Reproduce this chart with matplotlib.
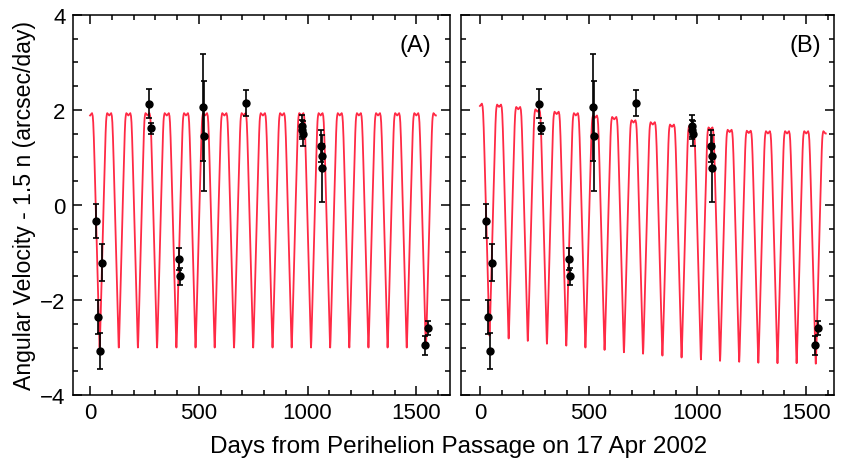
import numpy as np
import matplotlib.pyplot as plt
from matplotlib.ticker import MultipleLocator

plt.rcParams['font.family'] = ['Liberation Sans', 'DejaVu Sans']

# model curve: trough times (days), one every ~88 d
trough_days = [44, 132, 220, 308, 397, 485, 573, 662, 750, 839, 927, 1016,
               1104, 1192, 1280, 1368, 1456, 1544]
# panel A levels (constant)
plateau_a = 1.93
trough_a = -3.00
# panel B levels, plateaus centred at day 0, 88, 176, ...
plateau_b = [2.13, 2.11, 2.06, 2.01, 1.96, 1.93, 1.88, 1.85, 1.78, 1.74,
             1.69, 1.66, 1.63, 1.58, 1.56, 1.55, 1.55, 1.55, 1.55]
trough_b = [-2.75, -2.81, -2.86, -2.92, -2.96, -3.00, -3.05, -3.10, -3.13,
            -3.17, -3.21, -3.25, -3.28, -3.30, -3.32, -3.33, -3.33, -3.34]
# half a cycle of the curve: days from trough -> fraction of swing to plateau
shape_days = [0, 1, 2, 3.5, 5, 8, 12, 16, 20, 24, 26, 28, 30, 32, 35, 40, 44]
shape_frac = [0, 0.015, 0.045, 0.09, 0.14, 0.25, 0.39, 0.53, 0.67, 0.81,
              0.875, 0.93, 0.97, 0.99, 1.0, 0.995, 0.99]
curve_start, curve_end = 0, 1590

# observations
obs_day = [26, 37, 46, 57, 273, 280, 410, 414, 519, 523, 716,
           974, 976, 978, 1062, 1065, 1067, 1540, 1555]
obs_val = [-0.34, -2.36, -3.07, -1.22, 2.13, 1.61, -1.13, -1.50, 2.05, 1.45, 2.15,
           1.66, 1.58, 1.50, 1.24, 1.03, 0.77, -2.95, -2.59]
obs_err = [0.35, 0.35, 0.375, 0.39, 0.30, 0.12, 0.23, 0.18, 1.12, 1.15, 0.27,
           0.23, 0.20, 0.27, 0.33, 0.25, 0.71, 0.20, 0.14]


def model_curve(plateaus, troughs):
    t = np.arange(curve_start, curve_end + 0.25, 0.25)
    td = np.array(trough_days, dtype=float)
    j = np.abs(t[:, None] - td[None, :]).argmin(axis=1)
    d = t - td[j]
    side = np.where(d < 0, j, j + 1)
    pv = np.asarray(plateaus)[side]
    tv = np.asarray(troughs)[j]
    f = np.interp(np.abs(d), shape_days, shape_frac)
    return t, tv + (pv - tv) * f


fig = plt.figure(figsize=(8.47, 4.6), dpi=100)
ax_a = fig.add_axes([0.0858, 0.139, 0.4455, 0.8268])
ax_b = fig.add_axes([0.5443, 0.139, 0.4404, 0.8268])

curves = [model_curve([plateau_a] * len(plateau_b), [trough_a] * len(trough_b)),
          model_curve(plateau_b, trough_b)]
labels = ['(A)', '(B)']
xlims = [(-80, 1655), (-87, 1628)]
label_x = [0.907, 0.922]

for i, ax in enumerate([ax_a, ax_b]):
    t, v = curves[i]
    ax.plot(t, v, color='#ff2a45', lw=1.3, zorder=2)
    ax.errorbar(obs_day, obs_val, yerr=obs_err, fmt='o', color='black',
                ms=5, capsize=2.5, elinewidth=1.2, capthick=1.2, zorder=3)
    ax.set_xlim(*xlims[i])
    ax.set_ylim(-4, 4)
    ax.xaxis.set_major_locator(MultipleLocator(500))
    ax.xaxis.set_minor_locator(MultipleLocator(100))
    ax.yaxis.set_major_locator(MultipleLocator(2))
    ax.yaxis.set_minor_locator(MultipleLocator(0.5))
    ax.tick_params(which='both', direction='in', top=True, right=True, width=1.1,
                   labelsize=16, pad=5)
    ax.tick_params(which='major', length=6.5)
    ax.tick_params(which='minor', length=3.6)
    for s in ax.spines.values():
        s.set_linewidth(1.1)
    ax.text(label_x[i], 0.92, labels[i], transform=ax.transAxes,
            ha='center', va='center', fontsize=17)

ax_b.tick_params(labelleft=False)
ax_a.set_ylabel('Angular Velocity - 1.5 n (arcsec/day)', fontsize=16.6, labelpad=3)
fig.text(0.541, 0.028, 'Days from Perihelion Passage on 17 Apr 2002',
         ha='center', va='center', fontsize=17.5)

fig.savefig('out.png', dpi=100)
